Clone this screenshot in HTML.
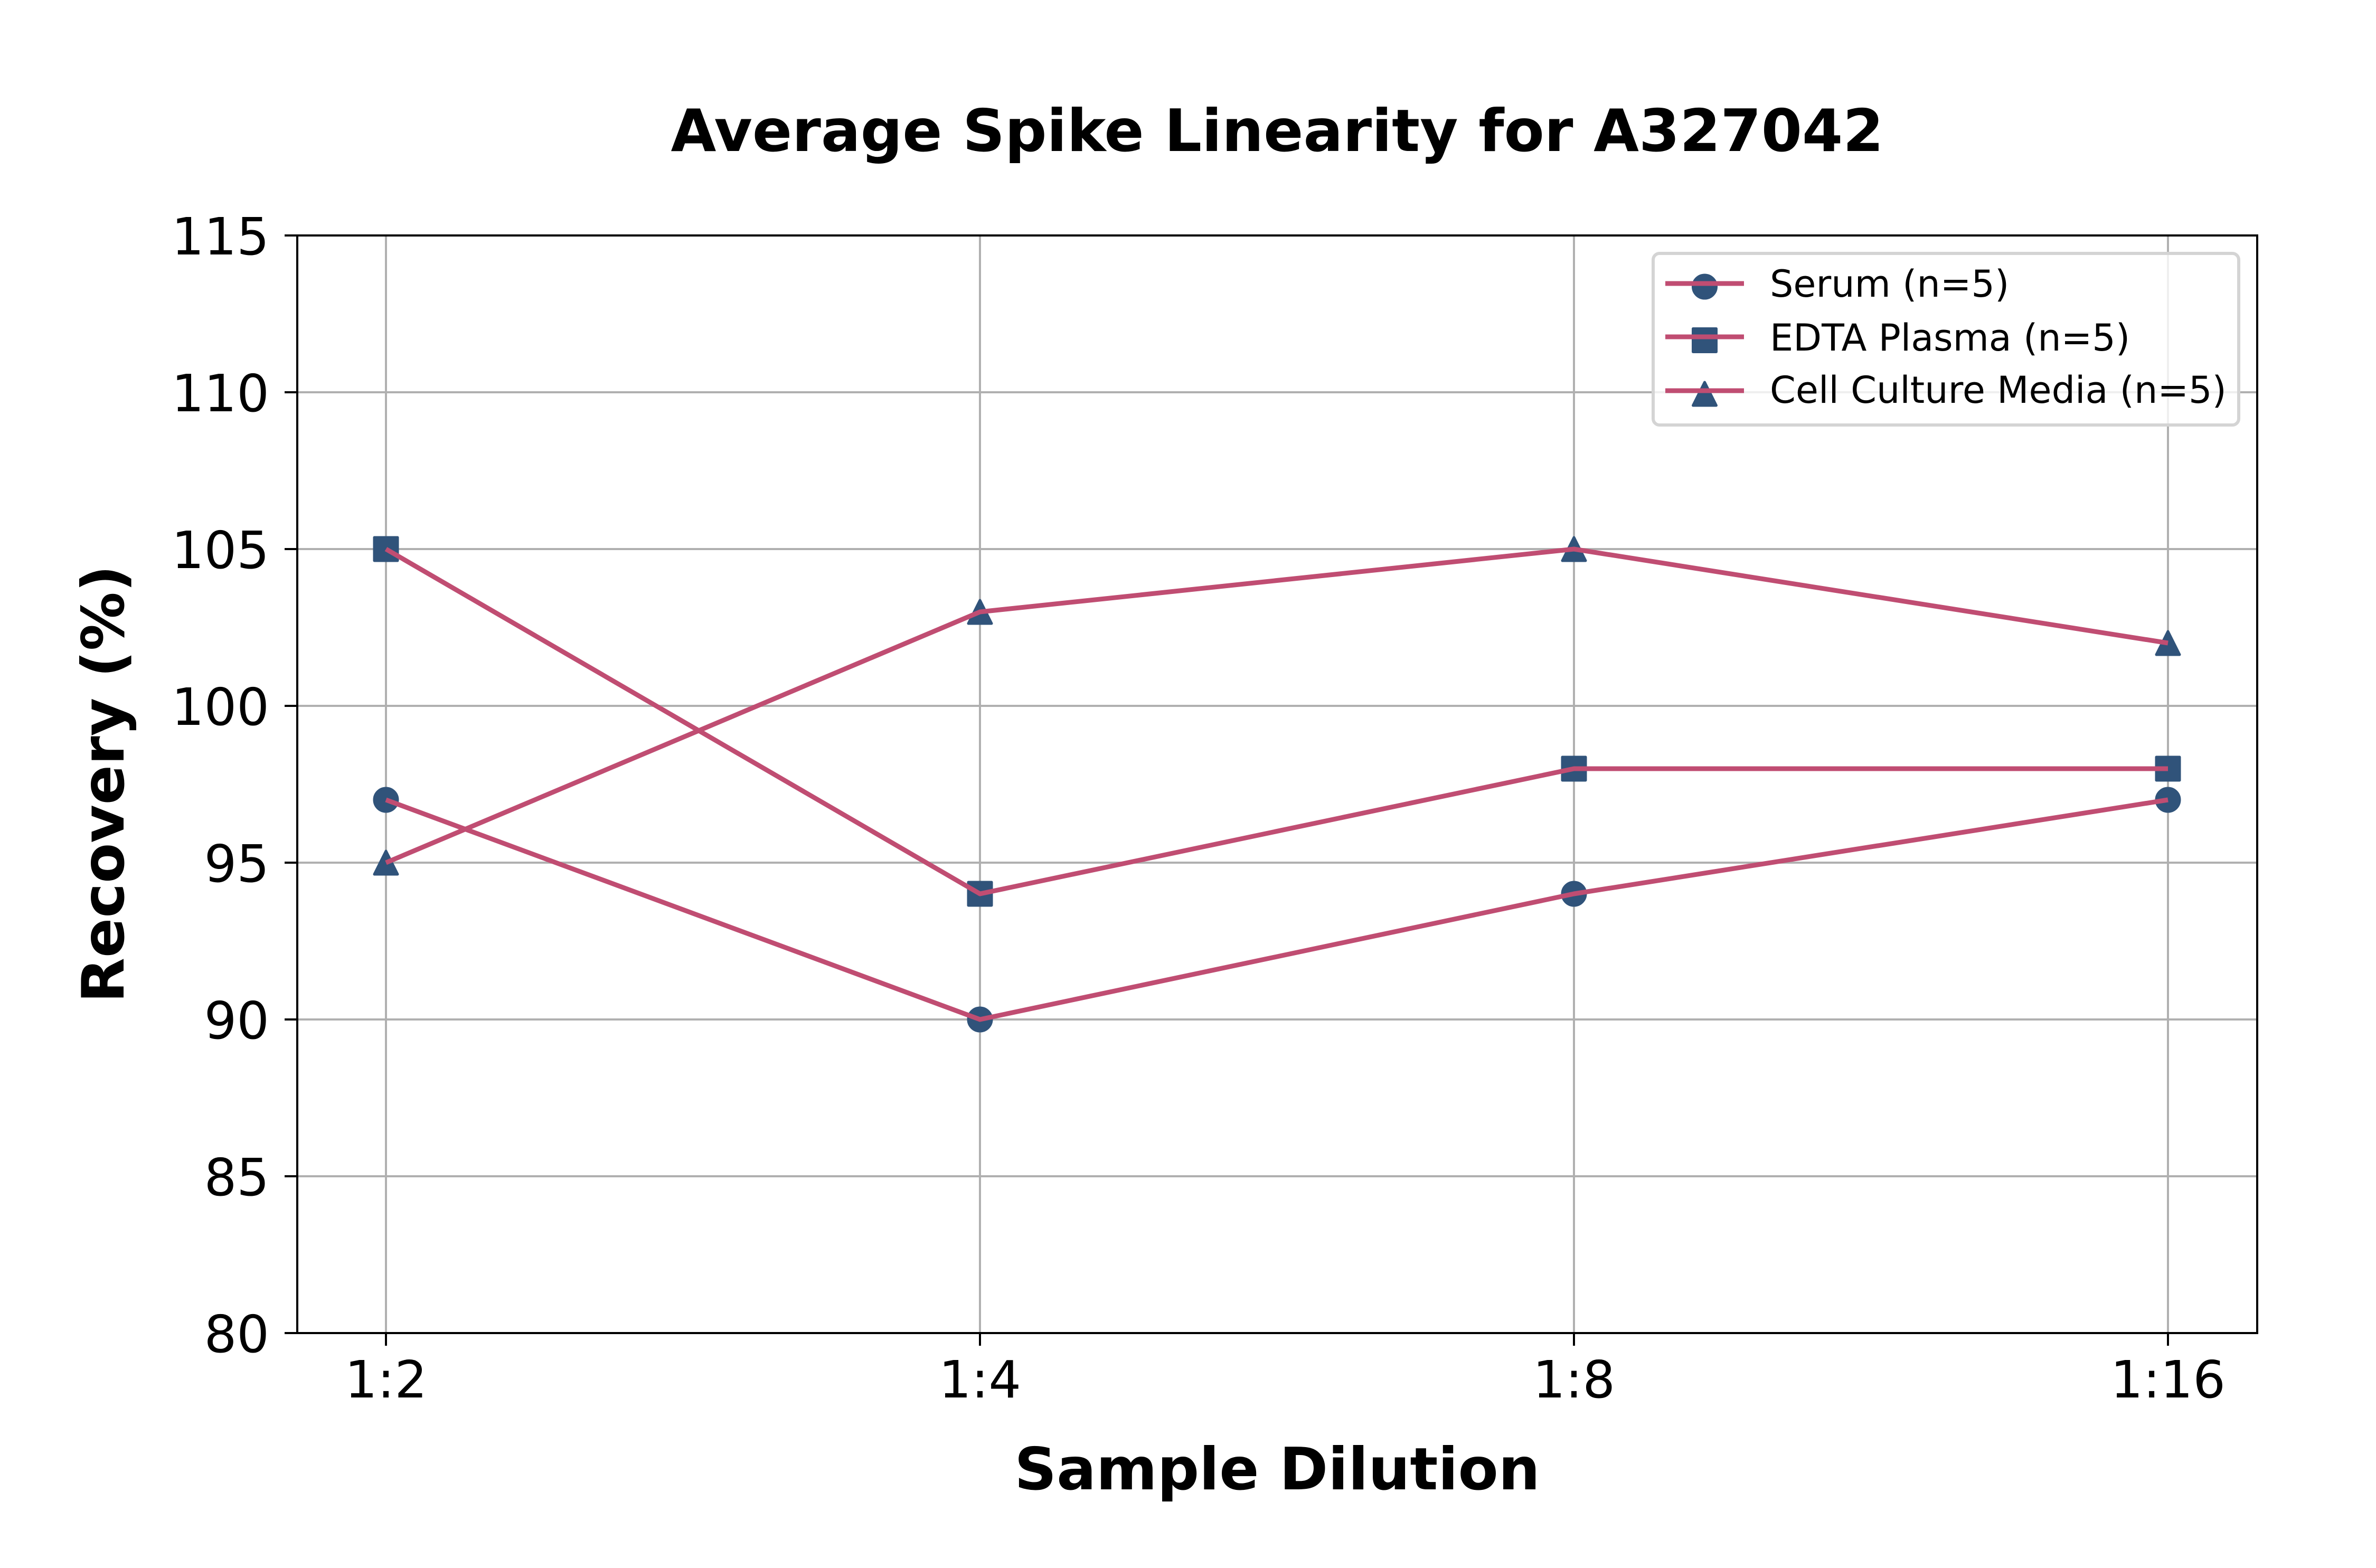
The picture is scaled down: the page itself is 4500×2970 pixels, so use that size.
<!DOCTYPE html>
<html>
<head>
<meta charset="utf-8">
<style>
  html, body { margin: 0; padding: 0; background: #ffffff; }
  svg { display: block; }
  text { font-family: "DejaVu Sans", "Liberation Sans", sans-serif; fill: #000; }
</style>
</head>
<body>
<svg xmlns="http://www.w3.org/2000/svg" width="4500" height="2970" viewBox="0 0 4500 2970">
  <rect x="0" y="0" width="4500" height="2970" fill="#ffffff"/>

  <!-- gridlines -->
  <g stroke="#b0b0b0" stroke-width="4" fill="none">
    <line x1="731" y1="446" x2="731" y2="2525"/>
    <line x1="1856" y1="446" x2="1856" y2="2525"/>
    <line x1="2981" y1="446" x2="2981" y2="2525"/>
    <line x1="4106" y1="446" x2="4106" y2="2525"/>
    <line x1="563" y1="743" x2="4275" y2="743"/>
    <line x1="563" y1="1040" x2="4275" y2="1040"/>
    <line x1="563" y1="1337" x2="4275" y2="1337"/>
    <line x1="563" y1="1634" x2="4275" y2="1634"/>
    <line x1="563" y1="1931" x2="4275" y2="1931"/>
    <line x1="563" y1="2228" x2="4275" y2="2228"/>
  </g>

  <!-- markers (drawn beneath lines) -->
  <g fill="#30537a" stroke="#30537a" stroke-width="5" stroke-linejoin="round">
    <circle cx="731" cy="1515" r="22"/>
    <circle cx="1856" cy="1931" r="22"/>
    <circle cx="2981" cy="1693" r="22"/>
    <circle cx="4106" cy="1515" r="22"/>
    <rect x="709" y="1018" width="44" height="44"/>
    <rect x="1834" y="1671" width="44" height="44"/>
    <rect x="2959" y="1434" width="44" height="44"/>
    <rect x="4084" y="1434" width="44" height="44"/>
    <polygon points="731,1612 709,1656 753,1656"/>
    <polygon points="1856,1137 1834,1181 1878,1181"/>
    <polygon points="2981,1018 2959,1062 3003,1062"/>
    <polygon points="4106,1196 4084,1240 4128,1240"/>
  </g>

  <!-- data lines -->
  <g fill="none" stroke="#c04d72" stroke-width="9" stroke-linejoin="round" stroke-linecap="butt">
    <polyline points="731,1515 1856,1931 2981,1693 4106,1515"/>
    <polyline points="731,1040 1856,1693 2981,1456 4106,1456"/>
    <polyline points="731,1634 1856,1159 2981,1040 4106,1218"/>
  </g>

  <!-- spines -->
  <rect x="563" y="446" width="3712" height="2079" fill="none" stroke="#000" stroke-width="4"/>

  <!-- ticks -->
  <g stroke="#000" stroke-width="4">
    <line x1="539" y1="446" x2="563" y2="446"/>
    <line x1="539" y1="743" x2="563" y2="743"/>
    <line x1="539" y1="1040" x2="563" y2="1040"/>
    <line x1="539" y1="1337" x2="563" y2="1337"/>
    <line x1="539" y1="1634" x2="563" y2="1634"/>
    <line x1="539" y1="1931" x2="563" y2="1931"/>
    <line x1="539" y1="2228" x2="563" y2="2228"/>
    <line x1="539" y1="2525" x2="563" y2="2525"/>
    <line x1="731" y1="2525" x2="731" y2="2549"/>
    <line x1="1856" y1="2525" x2="1856" y2="2549"/>
    <line x1="2981" y1="2525" x2="2981" y2="2549"/>
    <line x1="4106" y1="2525" x2="4106" y2="2549"/>
  </g>

  <!-- y tick labels -->
  <g font-size="97" text-anchor="end">
    <text x="510" y="482">115</text>
    <text x="510" y="779">110</text>
    <text x="510" y="1076">105</text>
    <text x="510" y="1373">100</text>
    <text x="510" y="1670">95</text>
    <text x="510" y="1967">90</text>
    <text x="510" y="2264">85</text>
    <text x="510" y="2561">80</text>
  </g>

  <!-- x tick labels -->
  <g font-size="97" text-anchor="middle">
    <text x="731" y="2647">1:2</text>
    <text x="1856" y="2647">1:4</text>
    <text x="2981" y="2647">1:8</text>
    <text x="4106" y="2647">1:16</text>
  </g>

  <!-- title and axis labels -->
  <text x="2419" y="286" font-size="111" font-weight="bold" text-anchor="middle">Average Spike Linearity for A327042</text>
  <text x="2419" y="2821" font-size="111" font-weight="bold" text-anchor="middle">Sample Dilution</text>
  <text x="234" y="1485" font-size="111" font-weight="bold" text-anchor="middle" transform="rotate(-90 234 1485)">Recovery (%)</text>

  <!-- legend -->
  <rect x="3131" y="480" width="1109" height="325" rx="12" ry="12" fill="#ffffff" fill-opacity="0.8" stroke="#d4d4d4" stroke-width="6"/>
  <g fill="#30537a" stroke="#30537a" stroke-width="5" stroke-linejoin="round">
    <circle cx="3228.5" cy="543" r="22"/>
    <rect x="3206.5" y="622.5" width="44" height="44"/>
    <polygon points="3228.5,724 3206.5,768 3250.5,768"/>
  </g>
  <g stroke="#c04d72" stroke-width="9">
    <line x1="3154" y1="537" x2="3303" y2="537"/>
    <line x1="3154" y1="638" x2="3303" y2="638"/>
    <line x1="3154" y1="740" x2="3303" y2="740"/>
  </g>
  <g font-size="70">
    <text x="3352" y="562">Serum (n=5)</text>
    <text x="3352" y="664">EDTA Plasma (n=5)</text>
    <text x="3352" y="763">Cell Culture Media (n=5)</text>
  </g>
</svg>
</body>
</html>
